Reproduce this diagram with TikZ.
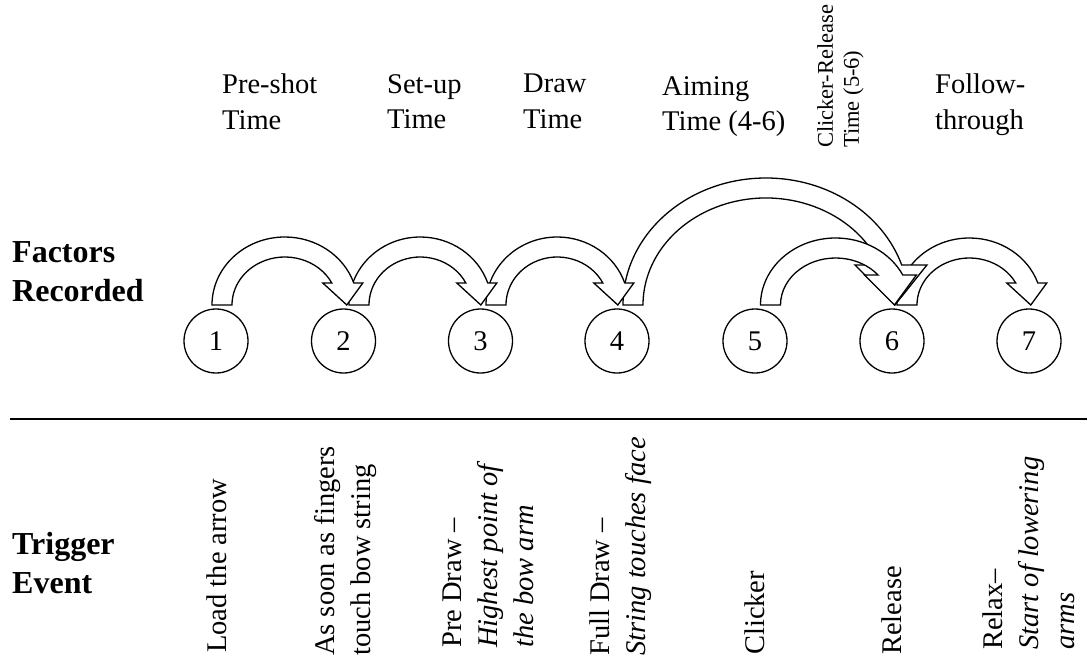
\documentclass[tikz,border=0pt]{standalone}
\usepackage{fontspec}
\setmainfont{Liberation Serif}
\usepackage{tikz}
\usetikzlibrary{calc}

\tikzset{
  num/.style={draw, circle, line width=1.3pt, minimum size=64, inner sep=0pt, font=\fontsize{28.5}{35}\selectfont},
  curvearrow/.style={draw, fill=white, line width=1.3pt, line join=miter},
  phase/.style={anchor=north west, inner sep=0pt, align=left, font=\fontsize{28.5}{35.5}\selectfont},
  event/.style={rotate=90, anchor=north west, inner sep=0pt, align=left, font=\fontsize{28.5}{36}\selectfont},
  rowhead/.style={anchor=north west, inner sep=0pt, align=left, font=\fontsize{32}{39.5}\selectfont\bfseries}
}

% #1 from, #2 to, #3 tail dx, #4 tip dx, #5 y radius, #6 head length, #7 head half width
\newcommand{\curvearr}[7]{%
  \draw[curvearrow] let
    \p1 = ($(#1.center)+(#3,36)$),
    \p2 = ($(#2.center)+(#4,36)$),
    \n1 = {(\x2-\x1-4)/(1+sqrt(1-(#6/#5)^2))},
    \n2 = {asin(#6/(#5+10))},
    \n3 = {asin(#6/(#5-10))},
    \n4 = {\x1+\n1},
    \n5 = {\n4+0.5*((\n1+10)*cos(\n2)+(\n1-10)*cos(\n3))}
  in ({\x1-10},\y1) arc[start angle=180, end angle=\n2, x radius={\n1+10pt}, y radius={(#5+10)*1pt}]
    -- ({\n5+#7},{\y1+#6}) -- ({\n5+4},\y1) -- ({\n5-#7},{\y1+#6})
    -- ({\n4+(\n1-10)*cos(\n3)},{\y1+#6})
    arc[start angle=\n3, end angle=180, x radius={\n1-10pt}, y radius={(#5-10)*1pt}] -- cycle;
}

\begin{document}
\begin{tikzpicture}[x=1pt, y=1pt]
  \useasboundingbox (0,0) rectangle (1087,-661);

  \node[num] (c1) at (216,-341) {1};
  \node[num] (c2) at (343.5,-341) {2};
  \node[num] (c3) at (480.5,-341) {3};
  \node[num] (c4) at (617,-341) {4};
  \node[num] (c5) at (755,-341) {5};
  \node[num] (c6) at (892,-341) {6};
  \node[num] (c7) at (1029,-341) {7};

  \curvearr{c6}{c7}{15}{2}{57}{22}{20}
  \curvearr{c4}{c6}{16}{3}{117}{40}{36}
  \curvearr{c5}{c6}{15.5}{3}{57}{30}{26}
  \curvearr{c3}{c4}{15.5}{1}{58}{22}{20}
  \curvearr{c2}{c3}{15.5}{0.5}{58}{22}{20}
  \curvearr{c1}{c2}{6}{3.5}{58}{22}{20}

  \node[phase] (ph1) at (222,-74) {Pre-shot\\Time};
  \node[phase] (ph2) at (387,-74) {Set-up\\Time};
  \node[phase] (ph3) at (523,-74) {Draw\\Time};
  \node[phase] (ph4) at (662,-76) {Aiming\\Time (4-6)};
  \node[event, font=\fontsize{22.5}{26}\selectfont] (ph5) at (817,-148) {Clicker-Release\\Time (5-6)};
  \node[phase] (ph6) at (935,-74) {Follow-\\through};

  \node[rowhead] (fac) at (12,-241) {Factors\\Recorded};
  \node[rowhead] (trg) at (12,-532) {Trigger\\Event};

  \draw[line width=1.3pt] (10,-419) -- (1087,-419);

  \node[event] (ev1) at (207,-653) {Load the arrow};
  \node[event] (ev2) at (314,-656) {As soon as fingers\\touch bow string};
  \node[event] (ev3) at (443,-648) {Pre Draw --\\\textit{Highest point of}\\\textit{the bow arm}};
  \node[event] (ev4) at (590,-656) {Full Draw --\\\textit{String touches face}};
  \node[event] (ev5) at (745,-655) {Clicker};
  \node[event] (ev6) at (882,-655) {Release};
  \node[event] (ev7) at (983,-650) {Relax--\\\textit{Start of lowering}\\\textit{arms}};
\end{tikzpicture}
\end{document}
